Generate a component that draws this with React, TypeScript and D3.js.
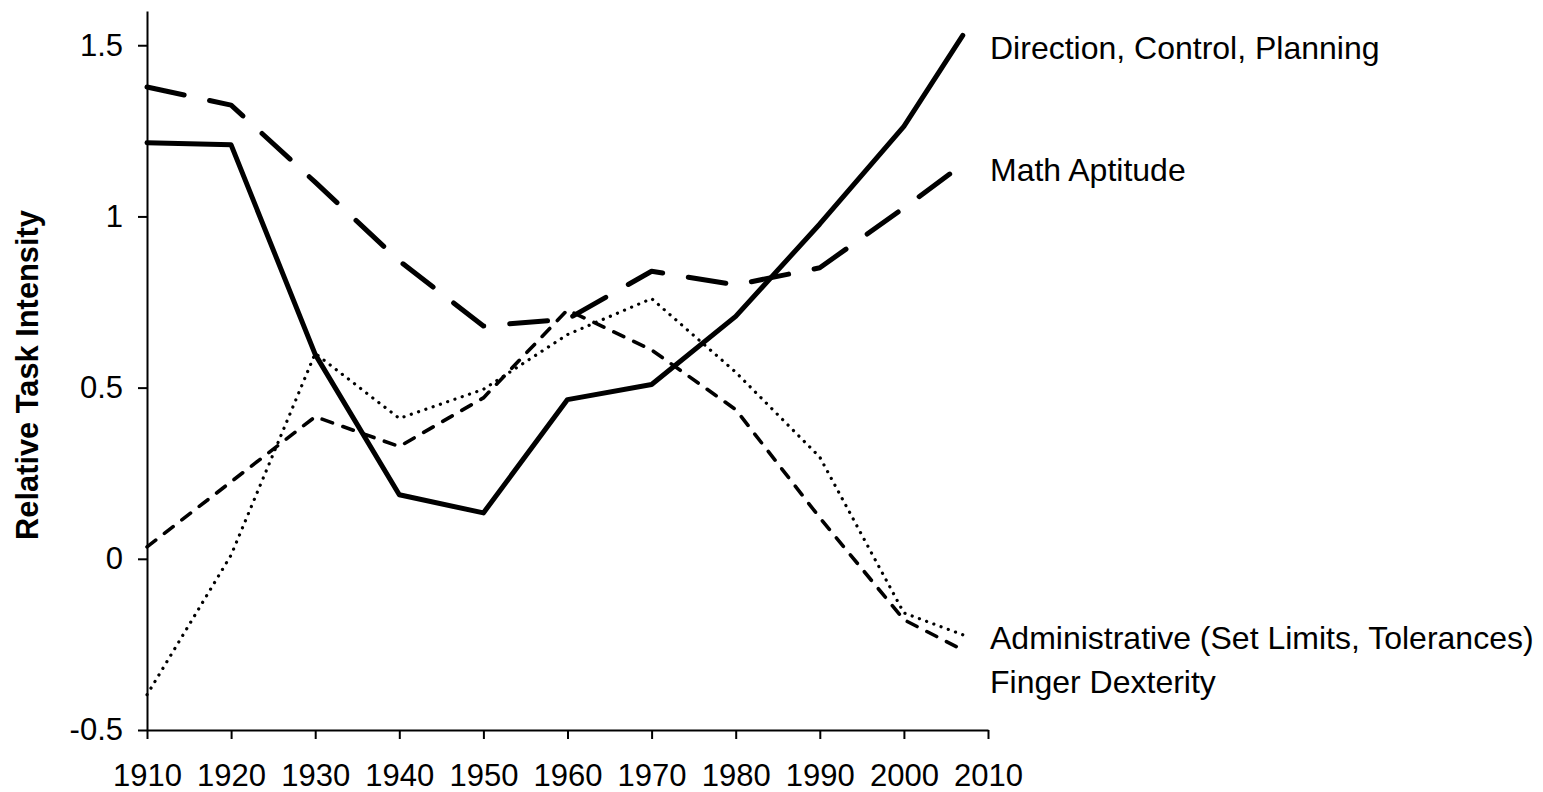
import React, { useEffect, useRef } from "react";
import * as d3 from "d3";

const years = [1910, 1920, 1930, 1940, 1950, 1960, 1970, 1980, 1990, 2000, 2007];
const directionControlPlanning = [1.215, 1.209, 0.597, 0.187, 0.134, 0.465, 0.509, 0.708, 0.978, 1.263, 1.529];
const mathAptitude = [1.378, 1.325, 1.1, 0.87, 0.68, 0.7, 0.84, 0.8, 0.85, 1.025, 1.152];
const administrative = [-0.397, 0.011, 0.6, 0.41, 0.495, 0.655, 0.76, 0.545, 0.297, -0.158, -0.222];
const fingerDexterity = [0.035, 0.225, 0.415, 0.328, 0.47, 0.727, 0.61, 0.436, 0.12, -0.178, -0.266];

const xTicks = [1910, 1920, 1930, 1940, 1950, 1960, 1970, 1980, 1990, 2000, 2010];
const yTicks = [-0.5, 0, 0.5, 1, 1.5];
const yTickLabels = ["-0.5", "0", "0.5", "1", "1.5"];

const seriesNames = [
  "Direction, Control, Planning",
  "Math Aptitude",
  "Administrative (Set Limits, Tolerances)",
  "Finger Dexterity",
];

const W = 1543;
const H = 792;
const FONT = "'Liberation Sans', Arial, Helvetica, sans-serif";

export default function App() {
  const ref = useRef<SVGSVGElement | null>(null);

  useEffect(() => {
    const svg = d3.select(ref.current);
    svg.selectAll("*").remove();

    const x = d3.scaleLinear().domain([1910, 2010]).range([147, 988]);
    const y = d3.scaleLinear().domain([-0.5, 1.6]).range([730, 11]);

    const gy = svg.append("g").attr("transform", `translate(${x(1910)},0)`);
    gy.call(
      d3
        .axisLeft(y)
        .tickValues(yTicks)
        .tickSize(9)
        .tickSizeOuter(0)
        .tickPadding(15)
        .tickFormat((d, i) => yTickLabels[i])
    );
    const gx = svg.append("g").attr("transform", `translate(0,${y(-0.5)})`);
    gx.call(
      d3
        .axisBottom(x)
        .tickValues(xTicks)
        .tickSize(9)
        .tickSizeOuter(0)
        .tickPadding(25)
        .tickFormat((d) => String(d))
    );
    [gx, gy].forEach((g) => {
      g.selectAll("path.domain").attr("stroke", "#000").attr("stroke-width", 2);
      g.selectAll(".tick line").attr("stroke", "#000").attr("stroke-width", 2);
      g.selectAll(".tick text")
        .attr("fill", "#000")
        .style("font-family", FONT)
        .style("font-size", "31px");
    });

    svg
      .append("text")
      .attr("transform", `translate(38,375) rotate(-90)`)
      .attr("text-anchor", "middle")
      .style("font-family", FONT)
      .style("font-size", "30.8px")
      .style("font-weight", "bold")
      .text("Relative Task Intensity");

    const line = d3
      .line<number>()
      .x((d, i) => x(years[i]))
      .y((d) => y(d));

    const series = [
      { data: mathAptitude, width: 5, dash: "38 26" },
      { data: fingerDexterity, width: 3.6, dash: "11 11" },
      { data: administrative, width: 3.2, dash: "0.1 7.6" },
      { data: directionControlPlanning, width: 5, dash: null },
    ];
    series.forEach((s) => {
      const p = svg
        .append("path")
        .attr("d", line(s.data) as string)
        .attr("fill", "none")
        .attr("stroke", "#000")
        .attr("stroke-width", s.width)
        .attr("stroke-linecap", "round")
        .attr("stroke-linejoin", "round");
      if (s.dash) p.attr("stroke-dasharray", s.dash);
    });

    const labelBaselines = [59, 181, 649, 693];
    seriesNames.forEach((name, i) => {
      svg
        .append("text")
        .attr("x", 990)
        .attr("y", labelBaselines[i])
        .style("font-family", FONT)
        .style("font-size", "32px")
        .attr("fill", "#000")
        .text(name);
    });
  }, []);

  return (
    <svg
      ref={ref}
      width={W}
      height={H}
      style={{ position: "absolute", left: 0, top: 0, background: "#fff" }}
    />
  );
}
